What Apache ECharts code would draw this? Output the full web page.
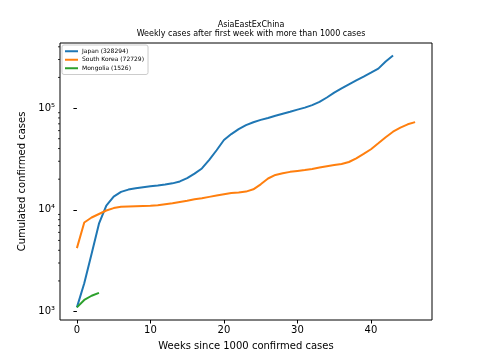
<!DOCTYPE html>
<html><head><meta charset="utf-8">
<script src="https://cdn.jsdelivr.net/npm/echarts@6/dist/echarts.min.js"></script>
<style>html,body{margin:0;padding:0;background:#fff}#c{width:480px;height:360px}</style>
</head><body><div id="c"></div>
<script>
var japan = [1100,1900,3700,7300,11000,13500,15000,15800,16300,16700,17000,17300,17700,18200,19000,20500,22700,25500,31000,38500,48500,55500,62000,68000,72500,76500,80000,84000,88000,92000,96500,101000,107000,115000,127000,142000,156000,171000,187000,204000,223000,244000,287000,328294];
var southKorea = [4200,7500,8400,9100,9850,10400,10700,10800,10850,10900,10950,11100,11350,11600,11950,12300,12700,13000,13400,13800,14200,14600,14800,15100,15900,17800,20300,22000,22900,23600,24100,24600,25200,26000,26800,27500,28200,29500,32100,35400,39400,45100,51700,58600,64100,69200,72729];
var mongolia = [1100,1300,1430,1526];
var seriesNames = ['Japan (328294)','South Korea (72729)','Mongolia (1526)'];
var xTicks = [0,10,20,30,40];
var yTicks = [1000,10000,100000];
var yMinorTicks = [2000,3000,4000,5000,6000,7000,8000,9000,20000,30000,40000,50000,60000,70000,80000,90000,200000,300000,400000];
var colors = ['#1f77b4','#ff7f0e','#2ca02c'];
var FONT = 'DejaVu Sans';
var X_MIN = -2.3, X_MAX = 48.3, Y_MIN = 826, Y_MAX = 436000;
var sup = {'0':'⁰','1':'¹','2':'²','3':'³','4':'⁴','5':'⁵','6':'⁶','7':'⁷','8':'⁸','9':'⁹'};
function toPairs(arr){return arr.map(function(v,i){return [i,v];});}
var chart = echarts.init(document.getElementById('c'));
var allData = [japan, southKorea, mongolia];
var series = allData.map(function(d,i){
  return {name:seriesNames[i], type:'line', data:toPairs(d), showSymbol:false, symbol:'none',
    lineStyle:{width:2,color:colors[i]}, itemStyle:{color:colors[i]}, z:3+i};
});
series.push({
  type:'custom', silent:true, clip:false, z:10,
  data:yMinorTicks.map(function(v){return [X_MIN, v];}),
  renderItem:function(params, api){
    var p = api.coord([api.value(0), api.value(1)]);
    return {type:'line', shape:{x1:p[0]-2, y1:p[1], x2:p[0], y2:p[1]}, style:{stroke:'#000', lineWidth:0.8}};
  }
});
chart.setOption({
  animation:false,
  color:colors,
  textStyle:{fontFamily:FONT},
  title:[
    {text:'AsiaEastExChina', left:246, top:15.5, textAlign:'center', textStyle:{fontFamily:FONT,fontSize:8,fontWeight:'normal',color:'#000'}},
    {text:'Weekly cases after first week with more than 1000 cases', left:246, top:24.5, textAlign:'center', textStyle:{fontFamily:FONT,fontSize:8,fontWeight:'normal',color:'#000'}}
  ],
  legend:{
    orient:'vertical', left:62, top:45, icon:'rect', itemWidth:13, itemHeight:2, itemGap:2,
    padding:[3,4,3,3], borderColor:'#ccc', borderWidth:1, borderRadius:2, backgroundColor:'#fff',
    textStyle:{fontFamily:FONT,fontSize:6,color:'#000',lineHeight:6.5,padding:[0,0,0,-1]},
    data:seriesNames
  },
  grid:{left:60,right:48,top:43,bottom:40,show:true,borderColor:'#000',borderWidth:1,backgroundColor:'transparent'},
  xAxis:{
    type:'value', min:X_MIN, max:X_MAX,
    name:'Weeks since 1000 confirmed cases', nameLocation:'middle', nameGap:21,
    nameTextStyle:{fontFamily:FONT,fontSize:10,color:'#000'},
    axisLine:{show:false},
    axisTick:{show:true,length:3.5,lineStyle:{color:'#000'},customValues:xTicks},
    axisLabel:{customValues:xTicks,fontFamily:FONT,fontSize:10,color:'#000',margin:5},
    splitLine:{show:false}
  },
  yAxis:{
    type:'log', logBase:10, min:Y_MIN, max:Y_MAX,
    name:'Cumulated confirmed cases', nameLocation:'middle', nameGap:32,
    nameTextStyle:{fontFamily:FONT,fontSize:10,color:'#000'},
    axisLine:{show:false},
    axisTick:{show:true,length:3.5,lineStyle:{color:'#000'},customValues:yTicks},
    axisLabel:{customValues:yTicks,fontFamily:FONT,fontSize:10,color:'#000',margin:5,
      formatter:function(v){var e=Math.round(Math.log10(v));return '10'+String(e).split('').map(function(d){return sup[d];}).join('');}},
    splitLine:{show:false}, minorTick:{show:false}
  },
  series:series
});
</script></body></html>
